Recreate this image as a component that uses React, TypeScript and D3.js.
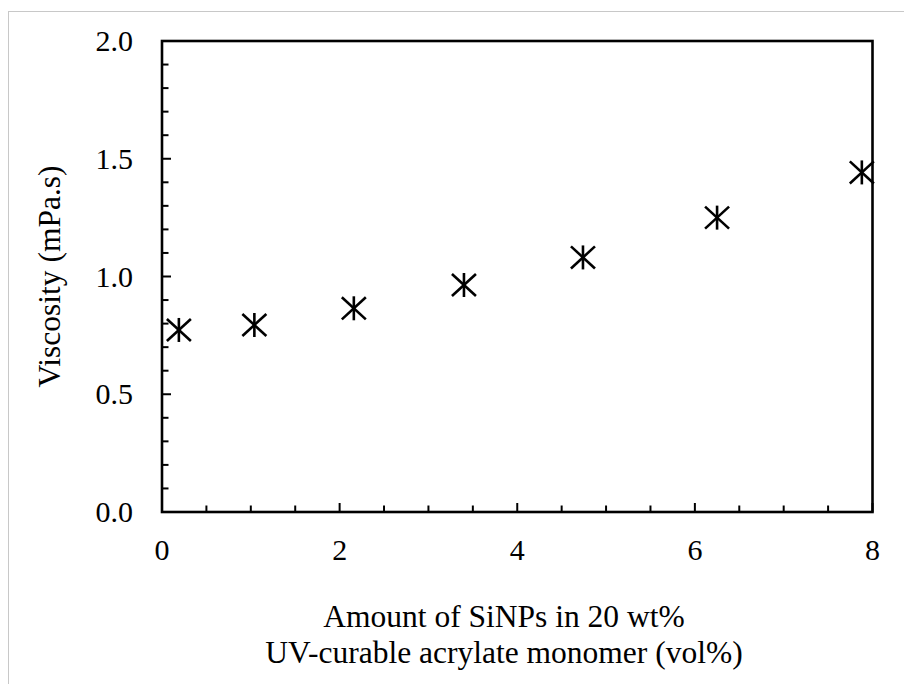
import React from "react";
import * as d3 from "d3";

const xValues = [0.19, 1.04, 2.16, 3.4, 4.74, 6.25, 7.88];
const yValues = [0.773, 0.794, 0.865, 0.964, 1.081, 1.25, 1.442];
const xTickLabels = [0, 2, 4, 6, 8];
const yTickLabels = [0, 0.5, 1.0, 1.5, 2.0];
const xTitleLines = ["Amount of SiNPs in 20 wt%", "UV-curable acrylate monomer (vol%)"];
const yTitle = "Viscosity (mPa.s)";

const W = 904;
const H = 684;
const L = 162, R = 872.5, T = 41, B = 512;
const FONT = "'Liberation Serif', 'Times New Roman', serif";

export default function App() {
  const x = d3.scaleLinear().domain([0, 8]).range([L, R]);
  const y = d3.scaleLinear().domain([0, 2]).range([B, T]);
  const xMinor = d3.range(0, 8.001, 0.5);
  const yMinor = d3.range(0, 2.001, 0.1);
  const isMajorX = (v: number) => Math.abs(v / 2 - Math.round(v / 2)) < 1e-6;
  const isMajorY = (v: number) => Math.abs(v / 0.5 - Math.round(v / 0.5)) < 1e-6;
  const mk = 12;
  return (
    <svg width={W} height={H} style={{ position: "absolute", left: 0, top: 0, background: "#fff" }}>
      <rect x={0} y={0} width={W} height={H} fill="#fff" />
      <rect x={8.5} y={11.5} width={1000} height={1000} fill="none" stroke="#c8c8c8" strokeWidth={1} />
      {/* ticks */}
      {xMinor.map((v, i) => (
        <line key={"xt" + i} x1={x(v)} x2={x(v)} y1={B} y2={B - (isMajorX(v) ? 9 : 6.5)} stroke="#000" strokeWidth={2} />
      ))}
      {yMinor.map((v, i) => (
        <line key={"yt" + i} x1={L} x2={L + (isMajorY(v) ? 9 : 6.5)} y1={y(v)} y2={y(v)} stroke="#000" strokeWidth={2} />
      ))}
      {/* frame */}
      <rect x={L} y={T} width={R - L} height={B - T} fill="none" stroke="#000" strokeWidth={2.6} />
      {/* tick labels */}
      {xTickLabels.map((v) => (
        <text key={"xl" + v} x={x(v)} y={560} textAnchor="middle" fontFamily={FONT} fontSize={30} fill="#000">
          {String(v)}
        </text>
      ))}
      {yTickLabels.map((v) => (
        <text key={"yl" + v} x={133} y={y(v) + 10} textAnchor="end" fontFamily={FONT} fontSize={30} fill="#000">
          {v.toFixed(1)}
        </text>
      ))}
      {/* axis titles */}
      {xTitleLines.map((t, i) => (
        <text key={"xt" + i} x={504} y={627 + i * 36} textAnchor="middle" fontFamily={FONT} fontSize={31.5} fill="#000">
          {t}
        </text>
      ))}
      <text transform={`translate(60,${(T + B) / 2}) rotate(-90)`} textAnchor="middle" fontFamily={FONT} fontSize={31.5} fill="#000">
        {yTitle}
      </text>
      {/* markers */}
      {xValues.map((xv, i) => {
        const cx = x(xv);
        const cy = y(yValues[i]);
        return (
          <g key={"m" + i} stroke="#000" strokeWidth={2.6} strokeLinecap="butt">
            <line x1={cx} x2={cx} y1={cy - mk} y2={cy + mk} />
            <line x1={cx - mk} x2={cx + mk} y1={cy - mk * 0.92} y2={cy + mk * 0.92} />
            <line x1={cx - mk} x2={cx + mk} y1={cy + mk * 0.92} y2={cy - mk * 0.92} />
          </g>
        );
      })}
    </svg>
  );
}
